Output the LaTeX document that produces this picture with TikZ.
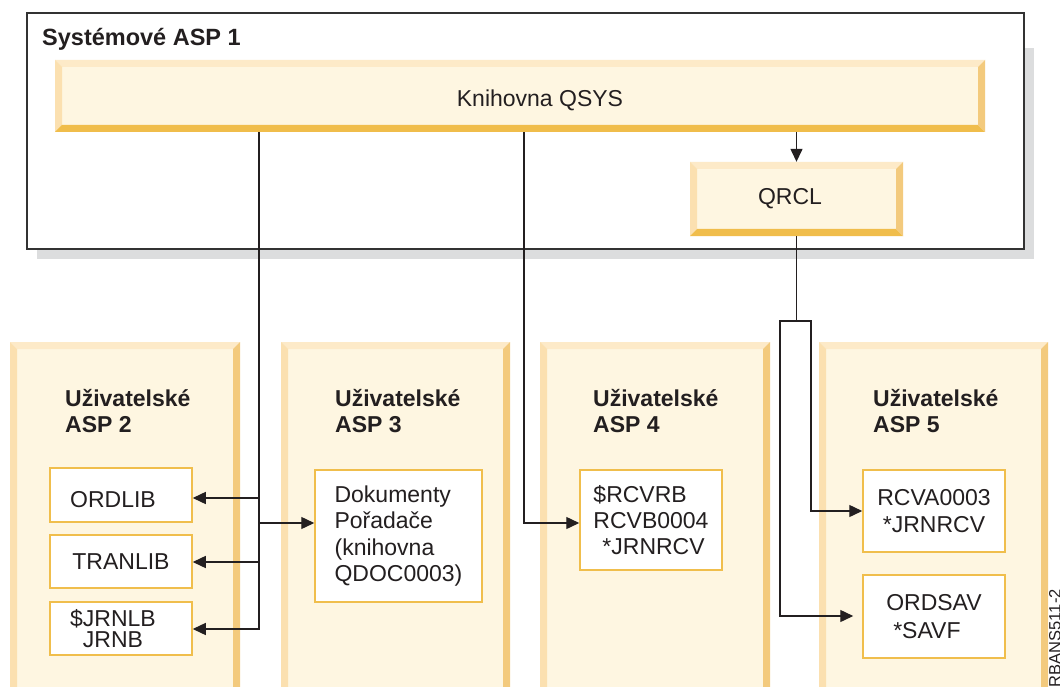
\documentclass[tikz,border=0pt]{standalone}
\usepackage{fontspec}
\setmainfont{Liberation Sans}
\usetikzlibrary{arrows.meta,calc}
\definecolor{bvin}{HTML}{FEF6E1}
\definecolor{bvtop}{HTML}{FDEAC8}
\definecolor{bvleft}{HTML}{FBE0B0}
\definecolor{bvbot}{HTML}{F0BD4B}
\definecolor{bvright}{HTML}{F3CA7D}
\definecolor{gold}{HTML}{F0BE4C}
\definecolor{shadowgray}{HTML}{DCDDDE}
\definecolor{ink}{HTML}{231F20}
\definecolor{frame}{HTML}{333333}
\tikzset{
  bevelbox/.style={draw=none, fill=bvin, inner sep=0pt, path picture={
    \fill[bvtop] (path picture bounding box.north west) -- (path picture bounding box.north east)
      -- ([xshift=-7pt,yshift=-7pt]path picture bounding box.north east)
      -- ([xshift=7pt,yshift=-7pt]path picture bounding box.north west) -- cycle;
    \fill[bvleft] (path picture bounding box.north west)
      -- ([xshift=7pt,yshift=-7pt]path picture bounding box.north west)
      -- ([xshift=7pt,yshift=7pt]path picture bounding box.south west)
      -- (path picture bounding box.south west) -- cycle;
    \fill[bvbot] (path picture bounding box.south west)
      -- ([xshift=7pt,yshift=7pt]path picture bounding box.south west)
      -- ([xshift=-7pt,yshift=7pt]path picture bounding box.south east)
      -- (path picture bounding box.south east) -- cycle;
    \fill[bvright] (path picture bounding box.south east)
      -- ([xshift=-7pt,yshift=7pt]path picture bounding box.south east)
      -- ([xshift=-7pt,yshift=-7pt]path picture bounding box.north east)
      -- (path picture bounding box.north east) -- cycle;
  }},
  wbox/.style={draw=gold, line width=1.5pt, fill=white, inner sep=0pt, text=ink,
    font=\fontsize{23}{26.5}\selectfont},
  plain/.style={inner sep=0pt, text=ink, font=\fontsize{23}{27}\selectfont},
  hdr/.style={inner sep=0pt, text=ink, font=\bfseries\fontsize{23}{27}\selectfont, anchor=base west},
  ln/.style={draw=ink, line width=1.4pt},
  arr/.style={ln, -{Triangle[length=13pt,width=12pt]}},
}
\begin{document}
\begin{tikzpicture}[x=1pt,y=-1pt]
\useasboundingbox (0,0) rectangle (1060,687);
\clip (0,0) rectangle (1060,687);

% system ASP
\fill[shadowgray] (37,48) rectangle (1034,259);
\node[draw=frame, line width=2pt, fill=white, minimum width=997pt, minimum height=236pt, inner sep=0pt] (sysasp) at (525.5,131) {};
\node[hdr, font=\bfseries\fontsize{23.5}{27}\selectfont] (systitle) at (42,46) {Systémové ASP 1};
\node[bevelbox, minimum width=930pt, minimum height=72pt] (qsys) at (520,96) {};
\node[plain] (qsystext) at (540,100) {Knihovna QSYS};
\node[bevelbox, minimum width=213pt, minimum height=74pt] (qrcl) at (796.5,199) {};
\node[plain] (qrcltext) at (790,199) {QRCL};

% user ASP columns
\node[bevelbox, minimum width=230pt, minimum height=378pt] (asp2) at (125,531) {};
\node[bevelbox, minimum width=229pt, minimum height=378pt] (asp3) at (395.5,531) {};
\node[bevelbox, minimum width=230pt, minimum height=378pt] (asp4) at (655,531) {};
\node[bevelbox, minimum width=229pt, minimum height=378pt] (asp5) at (933.5,531) {};

\node[hdr] (asp2a) at (65,406) {Uživatelské};
\node[hdr] (asp2b) at (65,432) {ASP 2};
\node[hdr] (asp3a) at (335,406) {Uživatelské};
\node[hdr] (asp3b) at (335,432) {ASP 3};
\node[hdr] (asp4a) at (593,406) {Uživatelské};
\node[hdr] (asp4b) at (593,432) {ASP 4};
\node[hdr] (asp5a) at (873,406) {Uživatelské};
\node[hdr] (asp5b) at (873,432) {ASP 5};

% library boxes
\node[wbox, minimum width=142pt, minimum height=54pt, text height=24.5pt, text depth=0pt] (ordlib) at (121,495) {ORDLIB\hspace*{16pt}};
\node[wbox, minimum width=142pt, minimum height=53pt] (tranlib) at (121,561.5) {TRANLIB};
\node[wbox, minimum width=142pt, minimum height=53pt, align=center,
      font=\fontsize{23}{21}\selectfont] (jrnlb) at (121,628.5) {\$JRNLB\hspace*{16pt}\\JRNB\hspace*{16pt}};
\node[wbox, minimum width=167pt, minimum height=132pt, align=left] (dok) at (398.5,536)
  {Dokumenty\\Pořadače\\(knihovna\\QDOC0003)};
\node[wbox, minimum width=142pt, minimum height=100pt, align=left,
      font=\fontsize{23}{26}\selectfont] (rcvrb) at (651,520)
  {\$RCVRB\\RCVB0004\\\hspace*{9pt}*JRNRCV};
\node[wbox, minimum width=142pt, minimum height=82pt, align=center,
      font=\fontsize{23}{27.5}\selectfont] (rcva) at (934,511) {RCVA0003\\*JRNRCV};
\node[wbox, minimum width=142pt, minimum height=83pt, align=left,
      font=\fontsize{23}{28}\selectfont] (ordsav) at (934,616.5) {ORDSAV\\\hspace*{7pt}*SAVF};

% connectors
\draw[arr] (qsys.south -| qrcl.north) -- (qrcl.north);

\coordinate (va) at (259,629);
\draw[arr] (qsys.south -| va) -- (va) -- (va -| jrnlb.east);
\coordinate (b1) at (259,498);
\draw[arr] (b1) -- (b1 -| ordlib.east);
\coordinate (b2) at (259,562);
\draw[arr] (b2) -- (b2 -| tranlib.east);
\coordinate (b3) at (259,523);
\draw[arr] (b3) -- (b3 -| dok.west);

\coordinate (vb) at (524,523);
\draw[arr] (qsys.south -| vb) -- (vb) -- (vb -| rcvrb.west);

\coordinate (sp) at (796.5,321);
\coordinate (spl) at (780,321);
\coordinate (spr) at (811,321);
\coordinate (r1) at (811,511);
\coordinate (l1) at (780,616);
\draw[ln] (qrcl.south) -- (sp);
\draw[arr] (sp) -- (spr) -- (r1) -- (r1 -| rcva.west);
\draw[arr, shorten >=9pt] (sp) -- (spl) -- (l1) -- (l1 -| ordsav.west);

% figure id
\node[inner sep=0pt, text=ink, font=\fontsize{16.5}{16.5}\selectfont, rotate=90, anchor=east] (figid) at (1055,589) {RBANS511-2};
\end{tikzpicture}
\end{document}
